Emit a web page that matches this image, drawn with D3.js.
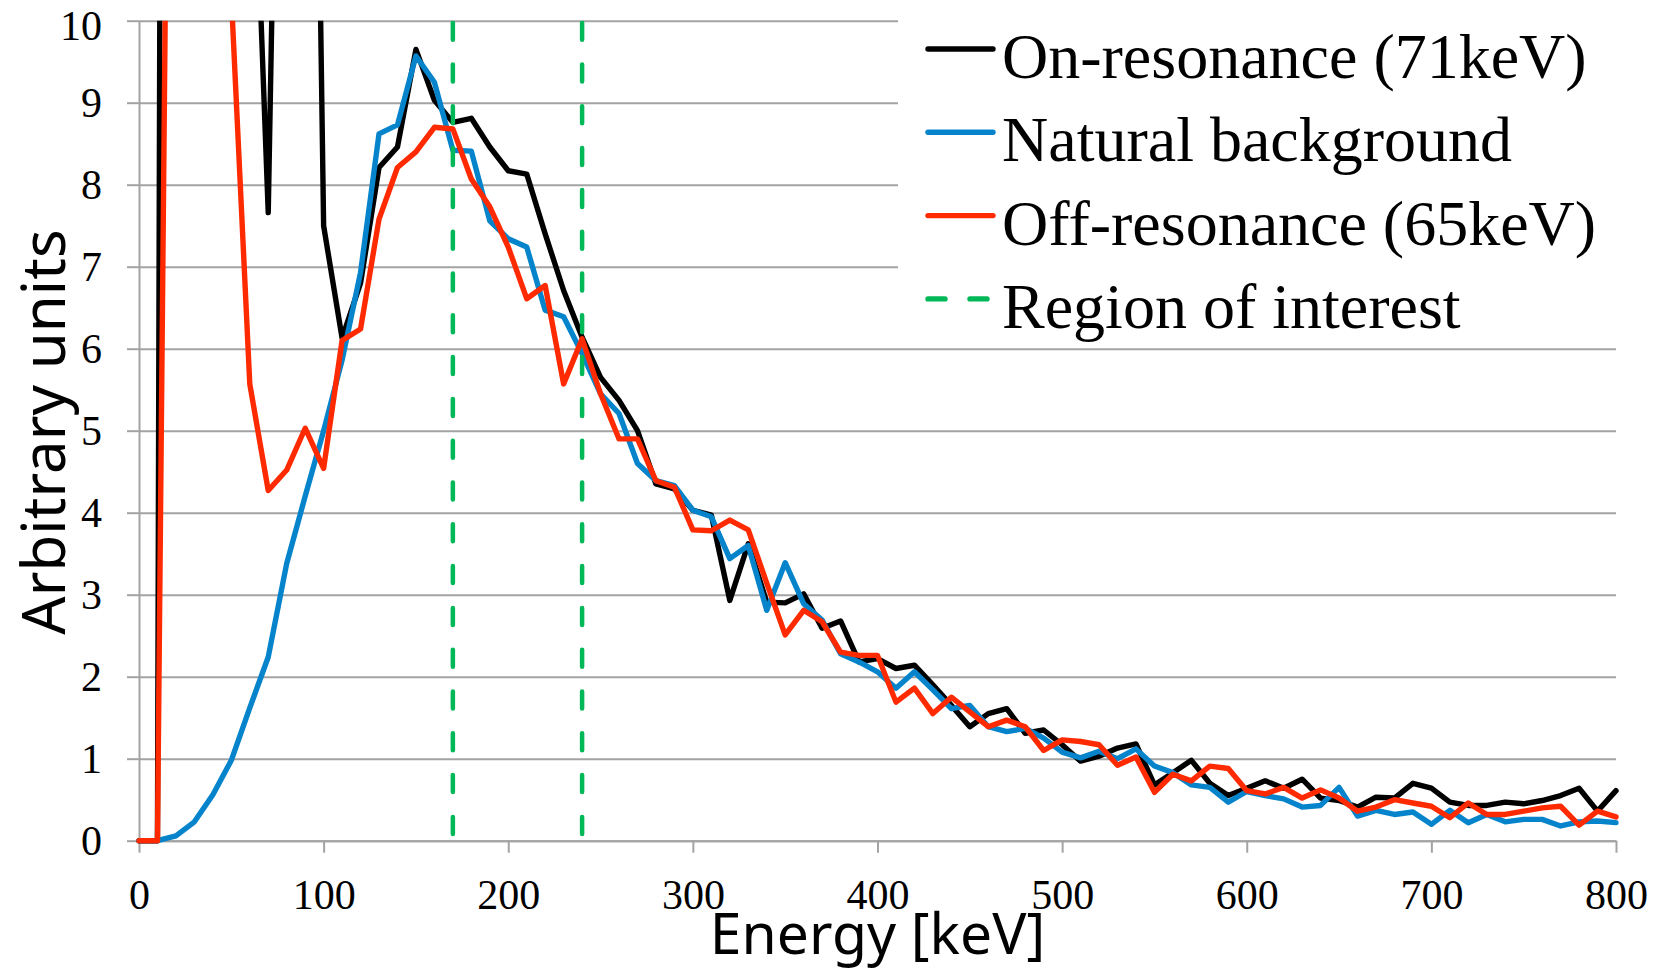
<!DOCTYPE html>
<html>
<head>
<meta charset="utf-8">
<script src="https://cdn.jsdelivr.net/npm/d3@7"></script>
<style>
  html, body { margin: 0; padding: 0; background: #fff; }
  #chart svg { display: block; }
</style>
</head>
<body>
<div id="chart"></div>
<script>
// energy bins (keV), one every 10 keV
const energies = d3.range(0, 801, 10);

// values above 10 are off the top of the plot and only set the slope of the clipped lines
const onResonance = [
  0, 0, 80, 60, 40, 25, 13.7, 7.66, 20, 23,
  7.50, 6.13, 6.8, 8.21, 8.46, 9.65, 9.03, 8.76, 8.81, 8.46,
  8.17, 8.13, 7.40, 6.71, 6.14, 5.65, 5.37, 5.0, 4.35, 4.29,
  4.03, 3.97, 2.93, 3.62, 2.91, 2.90, 3.01, 2.59, 2.68, 2.18,
  2.22, 2.10, 2.14, 1.90, 1.65, 1.39, 1.55, 1.61, 1.31, 1.35,
  1.17, 0.97, 1.03, 1.13, 1.18, 0.68, 0.83, 0.98, 0.70, 0.55,
  0.64, 0.73, 0.64, 0.75, 0.52, 0.49, 0.41, 0.53, 0.52, 0.70,
  0.64, 0.47, 0.43, 0.43, 0.47, 0.45, 0.49, 0.55, 0.64, 0.36,
  0.61
];
const naturalBackground = [
  0, 0, 0.06, 0.23, 0.56, 0.98, 1.62, 2.24, 3.38, 4.2,
  5.0, 5.86, 6.93, 8.62, 8.73, 9.57, 9.25, 8.42, 8.41, 7.56,
  7.34, 7.24, 6.47, 6.39, 5.94, 5.45, 5.21, 4.60, 4.39, 4.33,
  4.03, 3.95, 3.44, 3.60, 2.81, 3.39, 2.89, 2.69, 2.28, 2.18,
  2.06, 1.86, 2.06, 1.84, 1.61, 1.65, 1.39, 1.33, 1.37, 1.25,
  1.08, 1.01, 1.09, 1.00, 1.12, 0.91, 0.83, 0.68, 0.65, 0.47,
  0.60, 0.55, 0.51, 0.41, 0.43, 0.65, 0.30, 0.37, 0.32, 0.35,
  0.20, 0.37, 0.22, 0.32, 0.23, 0.26, 0.26, 0.18, 0.23, 0.24,
  0.22
];
const offResonance = [
  0, 0, 24, 26, 18, 10.3, 5.57, 4.27, 4.52, 5.03,
  4.54, 6.10, 6.24, 7.58, 8.21, 8.40, 8.70, 8.68, 8.07, 7.73,
  7.24, 6.61, 6.77, 5.57, 6.12, 5.45, 4.90, 4.90, 4.39, 4.31,
  3.79, 3.78, 3.91, 3.79, 3.14, 2.51, 2.81, 2.67, 2.30, 2.26,
  2.26, 1.69, 1.86, 1.55, 1.75, 1.57, 1.39, 1.47, 1.39, 1.10,
  1.23, 1.21, 1.17, 0.92, 1.02, 0.59, 0.81, 0.73, 0.91, 0.88,
  0.61, 0.57, 0.65, 0.52, 0.62, 0.52, 0.36, 0.41, 0.50, 0.46,
  0.42, 0.28, 0.46, 0.32, 0.32, 0.36, 0.40, 0.42, 0.19, 0.36,
  0.29
];
const regionOfInterest = [170, 240];

const xTicks = [0, 100, 200, 300, 400, 500, 600, 700, 800];
const yTicks = [0, 1, 2, 3, 4, 5, 6, 7, 8, 9, 10];

const seriesNames = ['On-resonance (71keV)', 'Natural background', 'Off-resonance (65keV)', 'Region of interest'];
const seriesColors = ['#000000', '#0584cc', '#ff2a00', '#00b858'];

const w = 1661;
const h = 974;
const plotLeft = 139;
const plotRight = 1616;
const plotTop = 20.7;
const plotBottom = 840.7;
const grey = '#a3a3a3';

const xScale = d3.scaleLinear().domain([0, 800]).range([plotLeft, plotRight]);
const yScale = d3.scaleLinear().domain([0, 10]).range([plotBottom, plotTop]);

const svg = d3.select('#chart')
  .append('svg')
  .attr('width', w)
  .attr('height', h);

svg.append('rect').attr('width', w).attr('height', h).attr('fill', '#fff');

svg.append('defs').append('clipPath')
  .attr('id', 'plot-clip')
  .append('rect')
  .attr('x', plotLeft - 5)
  .attr('y', plotTop)
  .attr('width', plotRight - plotLeft + 10)
  .attr('height', plotBottom - plotTop + 6);

// horizontal gridlines
svg.append('g')
  .attr('transform', `translate(${plotLeft},0)`)
  .call(d3.axisLeft(yScale).tickValues(yTicks).tickSize(-(plotRight - plotLeft)).tickFormat(''))
  .call(g => g.select('.domain').remove())
  .call(g => g.selectAll('line').attr('stroke', grey).attr('stroke-width', 2));

// y axis
svg.append('g')
  .attr('id', 'y-axis')
  .attr('transform', `translate(${plotLeft},0)`)
  .call(d3.axisLeft(yScale).tickValues(yTicks).tickSize(12).tickSizeOuter(0).tickPadding(25))
  .call(g => g.select('.domain').attr('stroke', grey).attr('stroke-width', 2))
  .call(g => g.selectAll('line').attr('stroke', grey).attr('stroke-width', 2))
  .call(g => g.selectAll('text')
    .attr('fill', '#000')
    .attr('dy', d => d === 10 ? '0.45em' : '0.32em')
    .style('font-family', '"Liberation Serif", "Times New Roman", serif')
    .style('font-size', '42px'));

// x axis
svg.append('g')
  .attr('id', 'x-axis')
  .attr('transform', `translate(0,${plotBottom})`)
  .call(d3.axisBottom(xScale).tickValues(xTicks).tickSize(12).tickSizeOuter(0).tickPadding(26))
  .call(g => g.select('.domain').attr('stroke', grey).attr('stroke-width', 2))
  .call(g => g.selectAll('line').attr('stroke', grey).attr('stroke-width', 2))
  .call(g => g.selectAll('text')
    .attr('fill', '#000')
    .style('font-family', '"Liberation Serif", "Times New Roman", serif')
    .style('font-size', '42px'));

const line = d3.line()
  .x((d, i) => xScale(energies[i]))
  .y(d => yScale(d));

const plot = svg.append('g').attr('clip-path', 'url(#plot-clip)');

[onResonance, naturalBackground, offResonance].forEach((values, i) => {
  plot.append('path')
    .datum(values)
    .attr('d', line)
    .attr('fill', 'none')
    .attr('stroke', seriesColors[i])
    .attr('stroke-width', 5.4)
    .attr('stroke-linejoin', 'round')
    .attr('stroke-linecap', 'round');
});

plot.selectAll('.roi')
  .data(regionOfInterest)
  .enter()
  .append('line')
  .attr('class', 'roi')
  .attr('x1', d => xScale(d))
  .attr('x2', d => xScale(d))
  .attr('y1', yScale(10))
  .attr('y2', yScale(0))
  .attr('stroke', seriesColors[3])
  .attr('stroke-width', 4.5)
  .attr('stroke-dasharray', '17,24.8')
  .attr('stroke-dashoffset', -2)
  .attr('stroke-linecap', 'round');

// legend
const legend = svg.append('g').attr('id', 'legend');

legend.append('rect')
  .attr('x', 898)
  .attr('y', 0)
  .attr('width', 763)
  .attr('height', 338)
  .attr('fill', '#fff');

const rows = legend.selectAll('.legend-row')
  .data(seriesNames)
  .enter()
  .append('g')
  .attr('class', 'legend-row')
  .attr('transform', (d, i) => `translate(0,${49 + i * 83.3})`);

rows.append('line')
  .attr('x1', 928)
  .attr('x2', 993)
  .attr('y1', 0)
  .attr('y2', 0)
  .attr('stroke', (d, i) => seriesColors[i])
  .attr('stroke-width', 5.4)
  .attr('stroke-linecap', 'round')
  .attr('stroke-dasharray', (d, i) => i === 3 ? '17,25' : null);

rows.append('text')
  .attr('x', 1002)
  .attr('y', 29)
  .text(d => d)
  .style('font-family', '"Liberation Serif", "Times New Roman", serif')
  .style('font-size', '64px');

// axis titles
svg.append('text')
  .attr('x', (plotLeft + plotRight) / 2)
  .attr('y', 954)
  .attr('text-anchor', 'middle')
  .text('Energy [keV]')
  .style('font-family', '"Noto Sans", sans-serif')
  .style('font-size', '57px');

svg.append('text')
  .attr('transform', 'translate(65,432) rotate(-90)')
  .attr('text-anchor', 'middle')
  .text('Arbitrary units')
  .style('font-family', '"Noto Sans", sans-serif')
  .style('font-size', '60px');
</script>
</body>
</html>
